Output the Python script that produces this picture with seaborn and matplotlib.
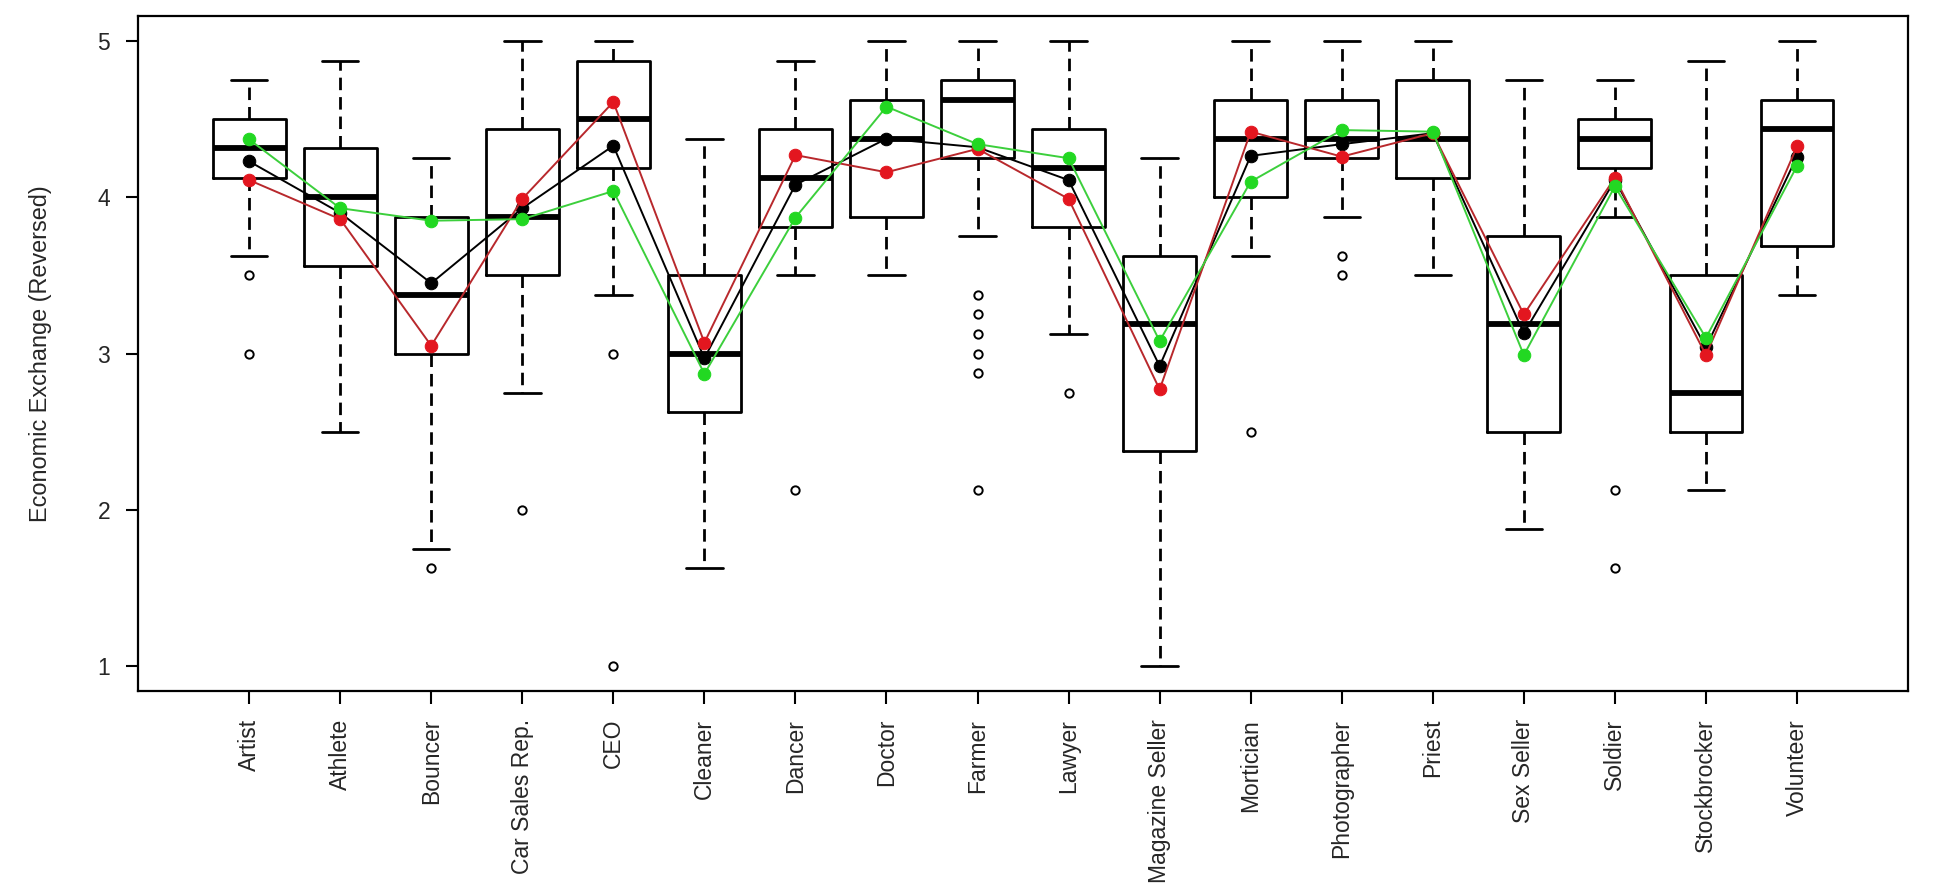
import numpy as np
import pandas as pd
import seaborn as sns
import matplotlib
matplotlib.use("Agg")
from matplotlib import pyplot as plt

# occupations on the x axis
categories = ["Artist", "Athlete", "Bouncer", "Car Sales Rep.", "CEO", "Cleaner",
              "Dancer", "Doctor", "Farmer", "Lawyer", "Magazine Seller", "Mortician",
              "Photographer", "Priest", "Sex Seller", "Soldier", "Stockbrocker", "Volunteer"]

# box summaries
whislo = [3.625, 2.5, 1.75, 2.75, 3.375, 1.625, 3.5, 3.5, 3.75, 3.125, 1.0, 3.625,
          3.875, 3.5, 1.875, 3.875, 2.125, 3.375]
q1 = [4.125, 3.5625, 3.0, 3.5, 4.1875, 2.625, 3.8125, 3.875, 4.25, 3.8125, 2.375, 4.0,
      4.25, 4.125, 2.5, 4.1875, 2.5, 3.6875]
med = [4.3125, 4.0, 3.375, 3.875, 4.5, 3.0, 4.125, 4.375, 4.625, 4.1875, 3.1875, 4.375,
       4.375, 4.375, 3.1875, 4.375, 2.75, 4.4375]
q3 = [4.5, 4.3125, 3.875, 4.4375, 4.875, 3.5, 4.4375, 4.625, 4.75, 4.4375, 3.625, 4.625,
      4.625, 4.75, 3.75, 4.5, 3.5, 4.625]
whishi = [4.75, 4.875, 4.25, 5.0, 5.0, 4.375, 4.875, 5.0, 5.0, 5.0, 4.25, 5.0,
          5.0, 5.0, 4.75, 4.75, 4.875, 5.0]
fliers = [[3.5, 3.0], [], [1.625], [2.0], [3.0, 1.0], [], [2.125], [],
          [3.375, 3.25, 3.125, 3.0, 2.875, 2.125], [2.75], [], [2.5], [3.625, 3.5],
          [], [], [2.125, 1.625], [], []]

# group means (three lines)
mean_black = [4.23, 3.90, 3.45, 3.93, 4.33, 2.97, 4.08, 4.375, 4.32, 4.11, 2.92, 4.265,
              4.34, 4.41, 3.13, 4.11, 3.04, 4.26]
mean_red = [4.11, 3.86, 3.05, 3.99, 4.61, 3.07, 4.27, 4.16, 4.31, 3.99, 2.77, 4.42,
            4.26, 4.41, 3.25, 4.125, 2.99, 4.325]
mean_green = [4.37, 3.93, 3.85, 3.86, 4.04, 2.87, 3.87, 4.58, 4.34, 4.25, 3.08, 4.10,
              4.43, 4.42, 2.99, 4.07, 3.10, 4.20]

sns.set_style("white")
plt.rcParams["font.family"] = ["Liberation Sans", "DejaVu Sans"]

fig = plt.figure(figsize=(19.5, 8.96), dpi=100)
ax = fig.add_axes([0.0708, 0.2288, 0.9077, 0.7533])

pos = np.arange(1, len(categories) + 1)
stats = []
for i, name in enumerate(categories):
    stats.append({"label": name, "whislo": whislo[i], "q1": q1[i], "med": med[i],
                  "q3": q3[i], "whishi": whishi[i], "fliers": fliers[i]})

ax.bxp(stats, positions=pos, widths=0.8, showfliers=True, patch_artist=False,
       boxprops=dict(color="black", linewidth=2.0),
       medianprops=dict(color="black", linewidth=4.2, solid_capstyle="butt"),
       whiskerprops=dict(color="black", linewidth=2.0, linestyle=(0, (4.5, 2.5))),
       capprops=dict(color="black", linewidth=2.0),
       flierprops=dict(marker="o", markersize=6, markerfacecolor="none",
                       markeredgecolor="black", markeredgewidth=1.4, linestyle="none"),
       capwidths=0.4)

df = pd.DataFrame({"pos": pos, "black": mean_black, "red": mean_red, "green": mean_green})
line_cols = {"black": ("black", "black"), "red": ("#b8282c", "#e3161f"),
             "green": ("#3ccf3c", "#22d822")}
for col in ["black", "red", "green"]:
    lc, mc = line_cols[col]
    sns.lineplot(data=df, x="pos", y=col, ax=ax, color=lc, linewidth=1.4,
                 marker="o", markersize=9, markerfacecolor=mc, markeredgecolor=mc,
                 zorder=5)

ax.set_xlim(-0.22, 19.22)
ax.set_ylim(0.84, 5.16)
ax.set_xticks(pos)
ax.set_xticklabels(categories, rotation=90, fontsize=16.5)
ax.set_yticks([1, 2, 3, 4, 5])
ax.set_yticklabels(["1", "2", "3", "4", "5"], fontsize=16.5)
ax.tick_params(axis="both", which="major", length=9, width=1.5, color="black",
               pad=11, left=True, bottom=True)
ax.set_xlabel("")
ax.set_ylabel("Economic Exchange (Reversed)", fontsize=16.9)
ax.yaxis.set_label_coords(-0.0486, 0.5)
for s in ax.spines.values():
    s.set_color("black")
    s.set_linewidth(1.6)

fig.savefig("out.png", dpi=100)
